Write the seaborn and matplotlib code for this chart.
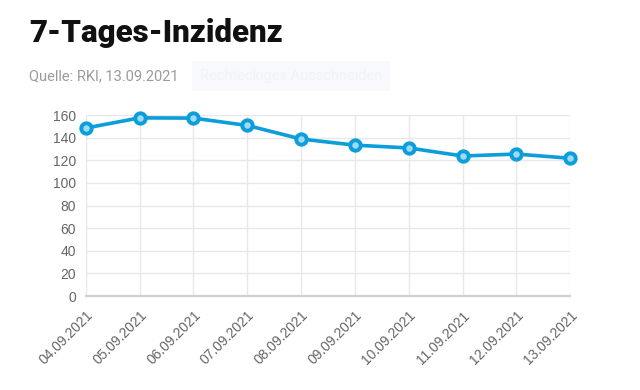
import matplotlib
matplotlib.use("Agg")
import matplotlib.pyplot as plt
import seaborn as sns
import pandas as pd

# data
dates = ["04.09.2021", "05.09.2021", "06.09.2021", "07.09.2021", "08.09.2021",
         "09.09.2021", "10.09.2021", "11.09.2021", "12.09.2021", "13.09.2021"]
incidence = [148.5, 157.5, 157.3, 150.8, 138.8, 133.4, 130.9, 123.8, 125.5, 121.8]
y_ticks = [0, 20, 40, 60, 80, 100, 120, 140, 160]

df = pd.DataFrame({"Datum": dates, "Inzidenz": incidence})
df["pos"] = range(len(df))

sns.set_style("white")
plt.rcParams["font.family"] = ["Liberation Sans", "DejaVu Sans"]

blue = "#0c9ddb"
grid = "#e8e8e8"
tick_col = "#666666"

fig = plt.figure(figsize=(6.4, 3.9), dpi=100)
ax = fig.add_axes([0.134, 0.241, 0.757, 0.464])

sns.lineplot(data=df, x="pos", y="Inzidenz", ax=ax, color=blue, linewidth=2.6,
             marker="o", markersize=7.5, markerfacecolor="#9fdaf3",
             markeredgecolor=blue, markeredgewidth=2.8, clip_on=False, zorder=5)

ax.set_xlim(0, len(dates) - 1)
ax.set_ylim(0, 160)
ax.set_xticks(df["pos"])
ax.set_xticklabels(dates, rotation=45, ha="right", rotation_mode="anchor")
ax.set_yticks(y_ticks)
ax.set_xlabel("")
ax.set_ylabel("")

ax.grid(True, color=grid, linewidth=1)
for s in ["top", "right", "left"]:
    ax.spines[s].set_visible(False)
ax.spines["bottom"].set_color("#cfcfcf")
ax.spines["bottom"].set_linewidth(1.5)
ax.tick_params(axis="both", colors=grid, length=6, width=1, labelsize=10,
               labelcolor=tick_col)
ax.tick_params(axis="x", pad=3)
ax.tick_params(axis="y", pad=1)

fig.text(0.045, 0.915, "7-Tages-Inzidenz", fontsize=22.5, fontweight="heavy",
         family=["Roboto", "DejaVu Sans"], color="#111111", va="center")
fig.text(0.045, 0.805, "Quelle: RKI, 13.09.2021", fontsize=10.5, color="#9a9a9a",
         va="center", family=["Roboto", "DejaVu Sans"])
fig.text(0.312, 0.805, "Rechteckiges Ausschneiden", fontsize=10.5, color="#f0f3f7",
         va="center", family=["Roboto", "DejaVu Sans"],
         bbox=dict(boxstyle="square,pad=0.55", fc="#f7f9fc", ec="none"))

fig.savefig("out.png", dpi=100, facecolor="white")
